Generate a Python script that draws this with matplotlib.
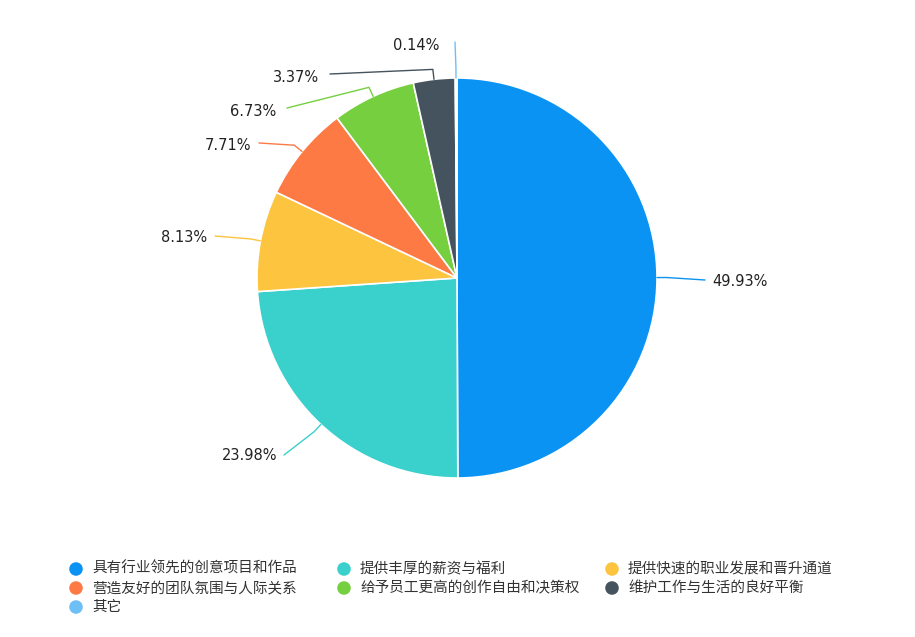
import numpy as np
import matplotlib.pyplot as plt

plt.rcParams['font.family'] = ['Noto Sans CJK SC', 'DejaVu Sans']

categories = ['具有行业领先的创意项目和作品', '提供丰厚的薪资与福利', '提供快速的职业发展和晋升通道',
              '营造友好的团队氛围与人际关系', '给予员工更高的创作自由和决策权', '维护工作与生活的良好平衡', '其它']
values = [49.93, 23.98, 8.13, 7.71, 6.73, 3.37, 0.14]
colors = ['#0b93f4', '#3ad0cc', '#fcc43f', '#fd7a45', '#75cf3e', '#44535e', '#6fbff7']

# layout in pixels (y measured from top)
W, H = 915, 637
cx, cy, R = 457, 278, 200
# label text anchor (x, y) and horizontal alignment
label_pos = [(712, 281, 'left'), (277, 456, 'right'), (207, 238, 'right'), (251, 145, 'right'),
             (276, 111, 'right'), (319, 77, 'right'), (439, 45, 'right')]
line_end = [(705, 280), (284, 455), (215, 236), (259, 143), (287, 108), (330, 74), (455, 42)]

fig = plt.figure(figsize=(W / 100, H / 100), dpi=100)
ax = fig.add_axes([0, 0, 1, 1])

ax.pie(values, colors=colors, startangle=90, counterclock=False, center=(cx, H - cy), radius=R,
       wedgeprops=dict(edgecolor='white', linewidth=1.2))
ax.set_xlim(0, W)
ax.set_ylim(0, H)
ax.set_aspect('equal')
ax.axis('off')

start = 0
for v, c, lp, le in zip(values, colors, label_pos, line_end):
    mid = (start + v / 2) / 100 * 2 * np.pi
    start += v
    sx, sy = cx + R * np.sin(mid), cy - R * np.cos(mid)
    ex, ey = cx + (R + 10) * np.sin(mid), cy - (R + 10) * np.cos(mid)
    xs = [sx, ex, le[0]]
    ys = [H - sy, H - ey, H - le[1]]
    ax.plot(xs, ys, color=c, lw=1, solid_capstyle='round')
    ax.text(lp[0], H - lp[1], f'{v}%', ha=lp[2], va='center', fontsize=10.5,
            color='#222222', family=['DejaVu Sans'])

# legend, row-wise in three columns
col_x = [76, 344, 612]
row_y = [569, 588, 607]
for i, (name, c) in enumerate(zip(categories, colors)):
    x = col_x[i % 3]
    y = row_y[i // 3]
    ax.scatter([x], [H - y], s=95, color=c, edgecolors='none')
    ax.text(x + 16, H - y, name, ha='left', va='center', fontsize=10.5, color='#333333')

fig.savefig('out.png', dpi=100, facecolor='white')
